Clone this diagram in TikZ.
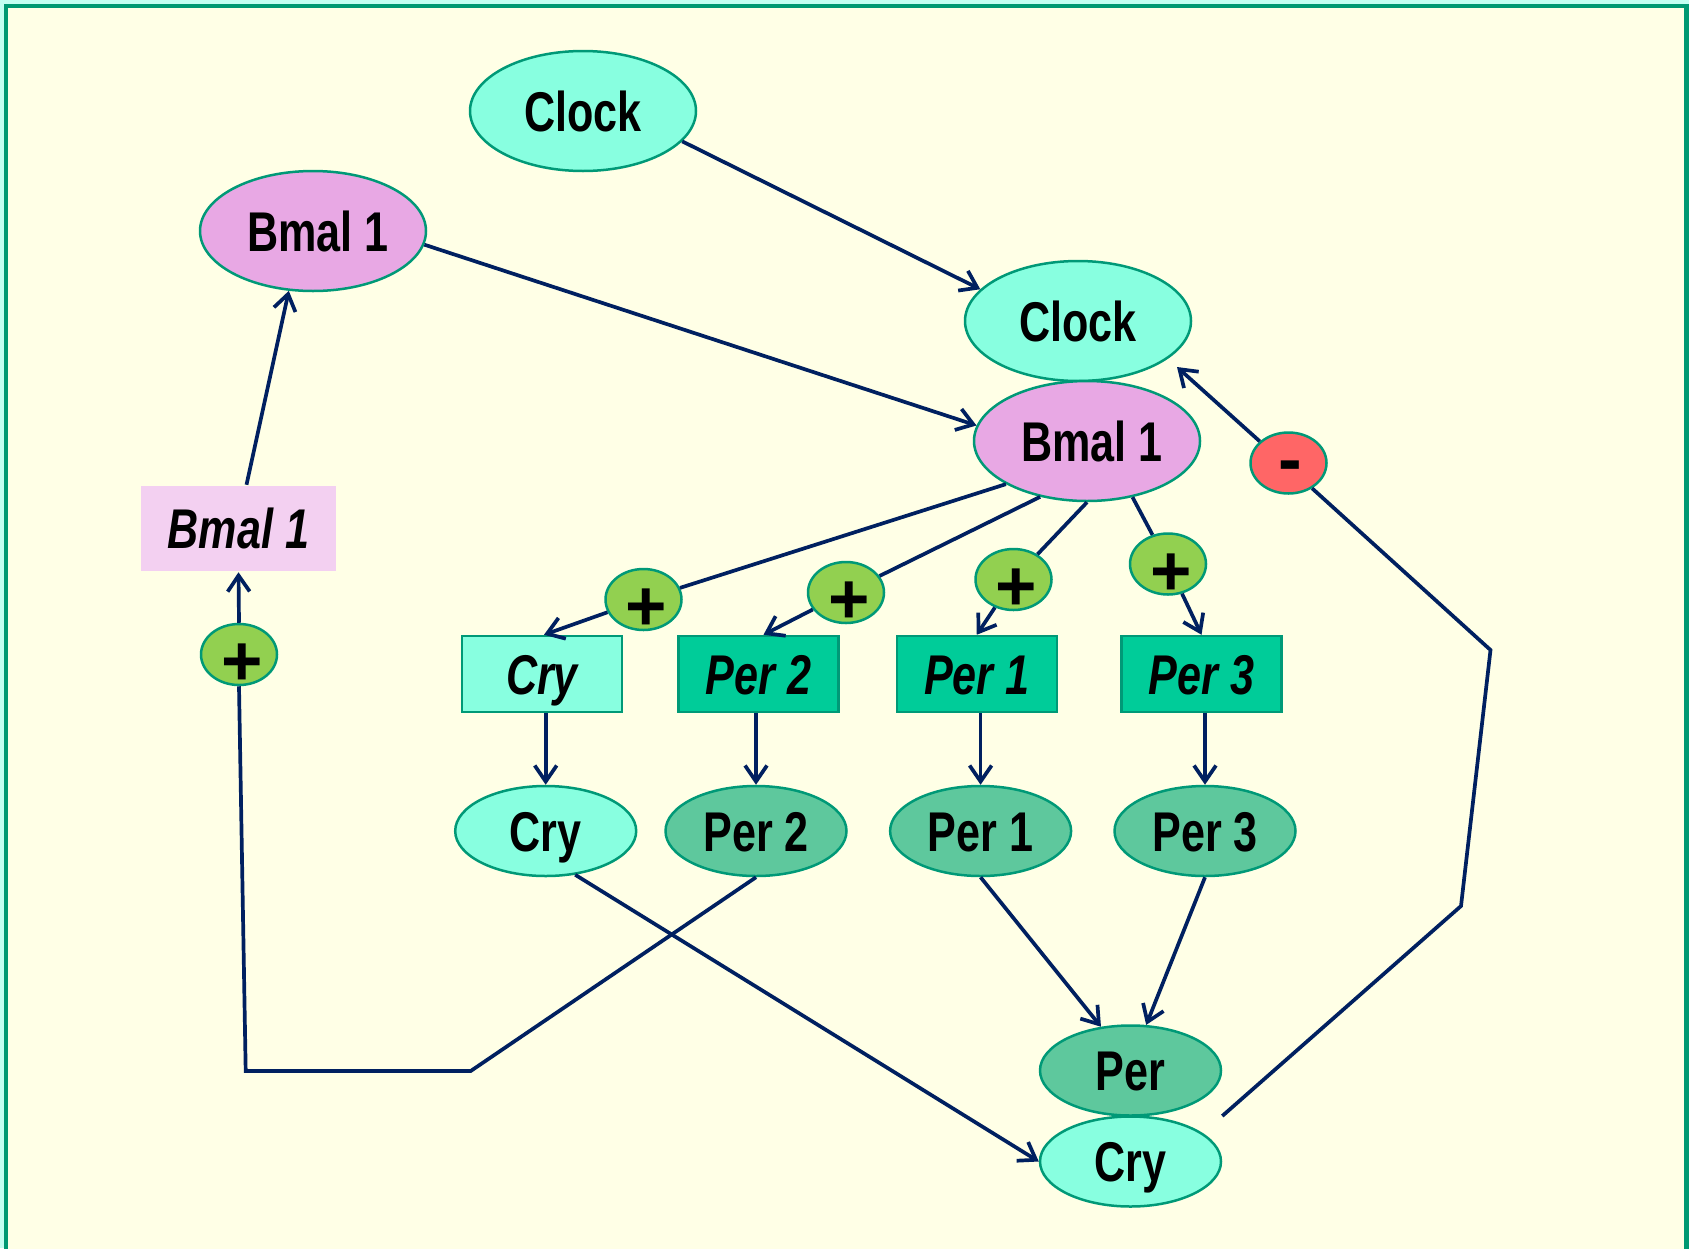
\documentclass[tikz,border=0pt]{standalone}
\usepackage{fontspec}
\setmainfont{Liberation Sans}[FakeStretch=0.77]
\newfontfamily\signfont{Liberation Sans}
\usetikzlibrary{shapes.geometric,arrows.meta,calc}
\definecolor{outerc}{HTML}{C4FFF2}
\definecolor{framec}{HTML}{009972}
\definecolor{bgc}{HTML}{FFFFE6}
\definecolor{bord}{HTML}{009977}
\definecolor{linec}{HTML}{002060}
\definecolor{clockc}{HTML}{88FFE0}
\definecolor{bmalc}{HTML}{E8A8E4}
\definecolor{bmalboxc}{HTML}{F3D0F1}
\definecolor{plusc}{HTML}{92D050}
\definecolor{minusc}{HTML}{FF6666}
\definecolor{perboxc}{HTML}{00CC99}
\definecolor{perellc}{HTML}{5EC89D}
\newcommand{\plussign}{\hspace*{6pt}\raisebox{-11pt}{+}}
\begin{document}
\begin{tikzpicture}[x=1pt,y=-1pt,
  conn/.style={draw=linec, line width=3.7pt},
  arr/.style={conn, -{Straight Barb[length=16pt,width=22pt]}},
  ell/.style={ellipse, draw=bord, line width=2.5pt, inner sep=0pt,
    font=\fontsize{56}{60}\selectfont\bfseries, text height=40pt, text depth=0pt},
  bigell/.style={ell, minimum width=226pt, minimum height=120pt},
  smallell/.style={ell, minimum width=181pt, minimum height=90pt},
  genebox/.style={rectangle, draw=bord, line width=2.5pt, inner sep=0pt,
    minimum width=160pt, minimum height=76pt,
    font=\fontsize{56}{60}\selectfont\bfseries\itshape, text height=40pt, text depth=0pt},
  signnode/.style={ellipse, draw=bord, line width=2.5pt, inner sep=0pt,
    minimum width=76pt, minimum height=61pt,
    font=\signfont\fontsize{71}{71}\selectfont\bfseries, text height=40pt, text depth=0pt},
  plusnode/.style={signnode, fill=plusc},
  minusnode/.style={signnode, fill=minusc},
]
\useasboundingbox (0,0) rectangle (1689,1248);
\fill[outerc] (0,0) rectangle (1689,1248);
\fill[framec] (4,4) rectangle (1689,1260);
\fill[bgc] (8,8) rectangle (1684,1260);

% nodes
\node[bigell, fill=clockc] (clockT) at (583,111) {Clock};
\node[bigell, fill=bmalc] (bmalTL) at (313,231) {\hspace*{10pt}Bmal 1};
\node[bigell, fill=clockc] (clockR) at (1078,321) {Clock};
\node[bigell, fill=bmalc] (bmalR) at (1087,441) {\hspace*{10pt}Bmal 1};
\node[genebox, draw=none, fill=bmalboxc, minimum width=195pt, minimum height=85pt] (bmalbox) at (238.5,528.5) {Bmal 1};
\node[plusnode] (plusL) at (239,654.5) {\plussign};
\node[plusnode] (p1) at (643.5,599.5) {\plussign};
\node[plusnode] (p2) at (846,592.5) {\plussign};
\node[plusnode] (p3) at (1013.5,579.5) {\plussign};
\node[plusnode] (p4) at (1168,564) {\plussign};
\node[minusnode] (minus) at (1288.5,463) {\hspace*{3pt}-};
\node[genebox, fill=clockc] (crybox) at (542,674) {Cry};
\node[genebox, fill=perboxc] (per2box) at (758.5,674) {Per 2};
\node[genebox, fill=perboxc] (per1box) at (976.75,674) {Per 1};
\node[genebox, fill=perboxc] (per3box) at (1201.5,674) {Per 3};
\node[smallell, fill=clockc] (cryE) at (545.7,831) {Cry};
\node[smallell, fill=perellc] (per2e) at (756,831) {Per 2};
\node[smallell, fill=perellc] (per1e) at (980.6,831) {Per 1};
\node[smallell, fill=perellc] (per3e) at (1205,831) {Per 3};
\node[smallell, fill=perellc] (perE) at (1130.5,1070.5) {Per};
\node[smallell, fill=clockc] (cryB) at (1130.5,1161.5) {Cry};

% helper coordinates
\coordinate (cornerA) at (470.7,1071);
\coordinate (cornerB) at (245.7,1071);
\coordinate (complex) at ($(perE.east)!0.5!(cryB.east)$);
\coordinate (r1) at (1461,906);
\coordinate (r2) at (1490.5,650);
\coordinate (cbjunc) at (1177,367);

% connectors
\draw[arr] (clockT.-17) -- (clockR.162);
\draw[arr] (bmalTL.-7) -- (bmalR.172);
\draw[arr] ([xshift=8pt]bmalbox.north) -- (bmalTL.248);
\draw[arr] (plusL.north) -- (bmalbox.south);
\draw[conn] (per2e.south) -- (cornerA) -- (cornerB) -- (plusL.south);
\draw[arr] (cryE.-56) -- (cryB.west);
\draw[arr] (crybox.south -| cryE.north) -- (cryE.north);
\draw[arr] (per2box.south -| per2e.north) -- (per2e.north);
\draw[arr] (per1box.south -| per1e.north) -- (per1e.north);
\draw[arr] (per3box.south -| per3e.north) -- (per3e.north);
\draw[arr] (per1e.south) -- (perE.124);
\draw[arr] (per3e.south) -- (perE.71);
\draw[conn] (complex) -- (r1) -- (r2) -- (minus.-47);
\draw[arr] (minus.143) -- (cbjunc);
\draw[conn] (bmalR.208) -- (p1);
\draw[arr] (p1) -- ([xshift=2pt]crybox.north);
\draw[conn] (bmalR.230) -- (p2);
\draw[arr] (p2) -- ([xshift=5pt]per2box.north);
\draw[conn] (bmalR.south) -- (p3);
\draw[arr] (p3) -- (per1box.north);
\draw[conn] (bmalR.-51) -- (p4);
\draw[arr] (p4) -- (per3box.north);
\end{tikzpicture}
\end{document}
